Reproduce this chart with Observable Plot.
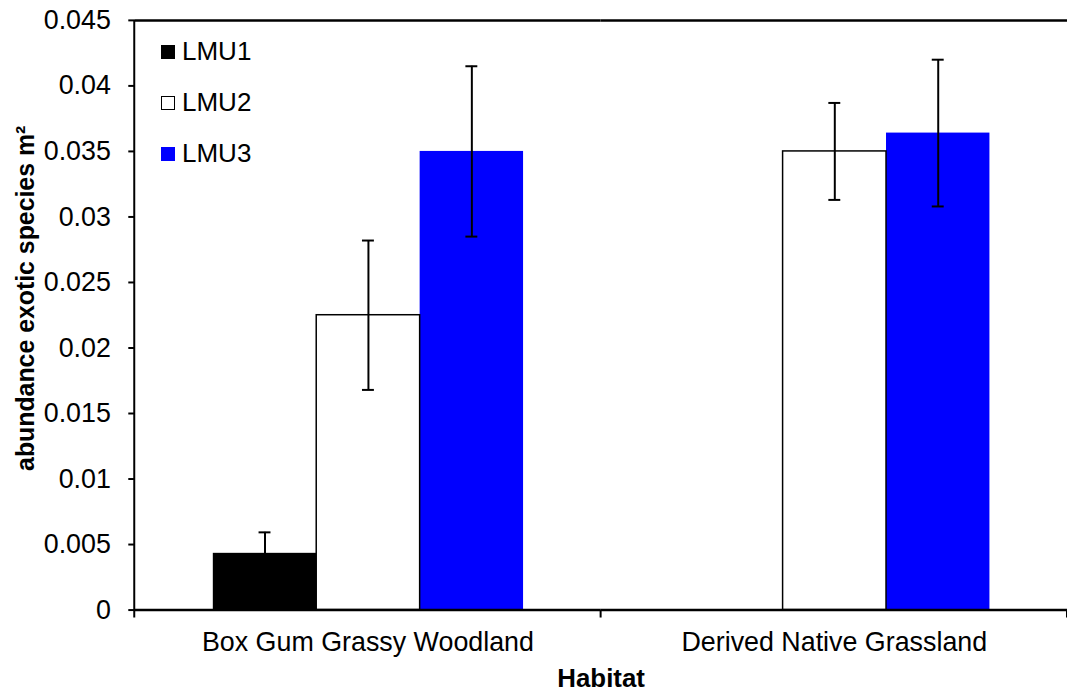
<!DOCTYPE html>
<html>
<head>
<meta charset="utf-8">
<script src="https://cdn.jsdelivr.net/npm/d3@7"></script>
<script src="https://cdn.jsdelivr.net/npm/@observablehq/plot@0.6"></script>
<style>
html, body { margin: 0; padding: 0; overflow: hidden; background: #fff; }
#wrap { position: relative; width: 1067px; height: 697px; overflow: hidden; }
#legend { position: absolute; left: 161px; top: 26px; font: 26px "Liberation Sans", Arial, sans-serif; color: #000; }
.li { display: flex; align-items: center; height: 51px; }
.sw { width: 14px; height: 14px; box-sizing: border-box; margin-right: 7px; }
[aria-label="y-axis label"] text { font-weight: bold; font-size: 25px; }
[aria-label="fx-axis label"] text { font-weight: bold; font-size: 26px; }
</style>
</head>
<body>
<div id="wrap"><div id="legend"></div></div>
<script>
const habitats = ["Box Gum Grassy Woodland", "Derived Native Grassland"];
const series = ["LMU1", "LMU2", "LMU3"];
const seriesColors = ["#000000", "#ffffff", "#0000ff"];
const bgwMean = [0.00433, 0.0225, 0.0350];
const bgwErr = [0.0016, 0.0057, 0.0065];
const dngMean = [null, 0.0350, 0.0364];
const dngErr = [null, 0.0037, 0.0056];
const yTicks = [0, 0.005, 0.01, 0.015, 0.02, 0.025, 0.03, 0.035, 0.04, 0.045];
const yTickLabels = ["0", "0.005", "0.01", "0.015", "0.02", "0.025", "0.03", "0.035", "0.04", "0.045"];

const rows = [];
[[bgwMean, bgwErr], [dngMean, dngErr]].forEach(([m, e], h) => {
  series.forEach((s, i) => {
    if (m[i] != null) rows.push({habitat: habitats[h], series: s, mean: m[i], lo: m[i] - e[i], hi: m[i] + e[i]});
  });
});

const plot = Plot.plot({
  width: 1073, height: 697,
  marginLeft: 134, marginRight: 0, marginTop: 20, marginBottom: 84,
  style: {fontFamily: '"Liberation Sans", Arial, sans-serif', fontSize: "27px", color: "#000", background: "transparent"},
  fx: {domain: habitats, padding: 0},
  x: {domain: series, paddingInner: 0, paddingOuter: 0.75, axis: null},
  y: {domain: [0, 0.045]},
  color: {domain: series, range: seriesColors},
  marks: [
    Plot.barY(rows.filter(d => d.series !== "LMU2"), {fx: "habitat", x: "series", y: "mean", fill: "series", inset: 0}),
    Plot.barY(rows.filter(d => d.series === "LMU2"), {fx: "habitat", x: "series", y: "mean", fill: "white", stroke: "black", strokeWidth: 1.5, inset: 0}),
    Plot.ruleX(rows, {fx: "habitat", x: "series", y1: "lo", y2: "hi", stroke: "black", strokeWidth: 2}),
    Plot.tickY(rows, {fx: "habitat", x: "series", y: "lo", stroke: "black", strokeWidth: 2, insetLeft: 46, insetRight: 46}),
    Plot.tickY(rows, {fx: "habitat", x: "series", y: "hi", stroke: "black", strokeWidth: 2, insetLeft: 46, insetRight: 46}),
    Plot.ruleY([0], {stroke: "black", strokeWidth: 2.5}),
    Plot.ruleY([0.045], {stroke: "black", strokeWidth: 2.5}),
    Plot.axisY({ticks: yTicks, tickFormat: d => yTickLabels[yTicks.indexOf(d)], tickSize: 6, tickPadding: 18, strokeWidth: 2,
      label: "abundance exotic species m²", labelAnchor: "center", labelOffset: 119, labelArrow: "none"}),
    Plot.axisFx({anchor: "bottom", tickSize: 0, tickPadding: 22, label: "Habitat", labelAnchor: "center", labelOffset: 77, labelArrow: "none"})
  ]
});

document.getElementById("wrap").prepend(plot);

// nudge the y title upward as in the reference (wrap it in a shifted group)
const yLab = plot.querySelector('[aria-label="y-axis label"]');
if (yLab) {
  const shift = document.createElementNS("http://www.w3.org/2000/svg", "g");
  shift.setAttribute("transform", "translate(0,-17)");
  yLab.parentNode.insertBefore(shift, yLab);
  shift.appendChild(yLab);
}

// y-axis line and category boundary ticks from the plot's own scales
const fxS = plot.scale("fx");
const yS = plot.scale("y");
const fxScale = Plot.scale({fx: fxS});
const y0 = yS.range[0], yTop = yS.range[1];
const g = d3.select(plot).append("g").attr("stroke", "black").attr("stroke-width", 2);
g.append("line").attr("x1", fxScale.apply(habitats[0])).attr("x2", fxScale.apply(habitats[0]))
  .attr("y1", yTop).attr("y2", y0 + 8);
habitats.forEach(h => {
  const b = fxScale.apply(h) + fxScale.bandwidth;
  g.append("line").attr("x1", b).attr("x2", b).attr("y1", y0).attr("y2", y0 + 8);
});

// legend
const lg = d3.select("#legend");
series.forEach((s, i) => {
  const row = lg.append("div").attr("class", "li");
  row.append("div").attr("class", "sw")
    .style("background", seriesColors[i])
    .style("border", s === "LMU2" ? "1.5px solid #000" : "none");
  row.append("span").text(s);
});
</script>
</body>
</html>
